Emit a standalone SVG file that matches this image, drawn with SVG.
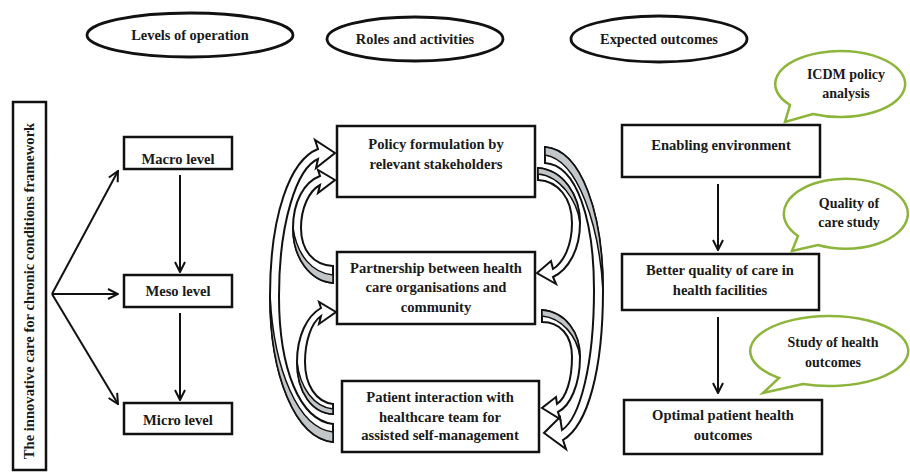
<svg xmlns="http://www.w3.org/2000/svg" width="910" height="472" viewBox="0 0 910 472">
<style>
text{font-family:"Liberation Serif","Times New Roman",serif;font-weight:bold;font-size:14.6px;fill:#1a1a1a;text-anchor:middle}
.hd{font-size:14.4px}
.bt{font-size:14px}
.box{fill:#fff;stroke:#111;stroke-width:2.5}
.ell{fill:#fff;stroke:#111;stroke-width:2.8}
.bub{fill:#fff;stroke:#8db53c;stroke-width:2.5;stroke-linejoin:miter}
.ln{fill:none;stroke:#111;stroke-width:2}
.band{fill:#fff;stroke:#111;stroke-width:2;stroke-linejoin:miter}
.gry{fill:#c3c6c9;stroke:#111;stroke-width:1.5}
</style>
<defs>
<marker id="ah" viewBox="0 0 12 12" refX="11" refY="6" markerWidth="12" markerHeight="12" markerUnits="userSpaceOnUse" orient="auto">
<path d="M1,1 L11,6 L1,11" fill="none" stroke="#111" stroke-width="2"/>
</marker>
</defs>
<rect width="910" height="472" fill="#fff"/>

<g id="hdr-levels"><ellipse class="ell" cx="190" cy="35" rx="103" ry="22"/><text class="hd" x="190" y="40">Levels of operation</text></g>
<g id="hdr-roles"><ellipse class="ell" cx="415" cy="39" rx="88" ry="22"/><text class="hd" x="415" y="44">Roles and activities</text></g>
<g id="hdr-outcomes"><ellipse class="ell" cx="659" cy="39" rx="88" ry="23"/><text class="hd" x="659" y="44">Expected outcomes</text></g>

<g id="framework"><rect class="box" x="13" y="102" width="33" height="368"/><text transform="translate(34,291) rotate(-90)">The innovative care for chronic conditions framework</text></g>

<g id="macro"><rect class="box" x="124" y="137" width="108" height="32"/><text x="178" y="164">Macro level</text></g>
<g id="meso"><rect class="box" x="124" y="275" width="108" height="32"/><text x="178" y="296">Meso level</text></g>
<g id="micro"><rect class="box" x="124" y="403" width="108" height="31"/><text x="178" y="425">Micro level</text></g>

<g id="policy"><rect class="box" x="337" y="126" width="198" height="71"/><text x="436" y="149">Policy formulation by</text><text x="436" y="169">relevant stakeholders</text></g>
<g id="partnership"><rect class="box" x="337" y="252" width="198" height="72"/><text x="436" y="273">Partnership between health</text><text x="436" y="292">care organisations and</text><text x="436" y="312">community</text></g>
<g id="patient"><rect class="box" x="342" y="381" width="197" height="71"/><text x="440" y="402">Patient interaction with</text><text x="440" y="422">healthcare team for</text><text x="440" y="440">assisted self-management</text></g>

<g id="enabling"><rect class="box" x="622" y="125" width="198" height="52"/><text x="721" y="150">Enabling environment</text></g>
<g id="better"><rect class="box" x="622" y="254" width="197" height="56"/><text x="720" y="275">Better quality of care in</text><text x="720" y="295">health facilities</text></g>
<g id="optimal"><rect class="box" x="624" y="400" width="198" height="54"/><text x="723" y="420">Optimal patient health</text><text x="723" y="440">outcomes</text></g>

<g id="bubble-icdm"><path class="bub" d="M813,114 L785,122 L790,105 A65 33 0 1 1 813,114 Z"/><text class="bt" x="846" y="79">ICDM policy</text><text class="bt" x="846" y="98">analysis</text></g>
<g id="bubble-quality"><path class="bub" d="M818,245 L792,251 L798,236 A62 35 0 1 1 818,245 Z"/><text class="bt" x="849" y="208">Quality of</text><text class="bt" x="849" y="227">care study</text></g>
<g id="bubble-study"><path class="bub" d="M803,384 L763,393 L779,378 A79 35 0 1 1 803,384 Z"/><text class="bt" x="833" y="347">Study of health</text><text class="bt" x="833" y="367">outcomes</text></g>

<g id="connectors">
<line class="ln" x1="52" y1="294" x2="118" y2="171" marker-end="url(#ah)"/>
<line class="ln" x1="52" y1="294" x2="118" y2="294" marker-end="url(#ah)"/>
<line class="ln" x1="52" y1="294" x2="118" y2="404" marker-end="url(#ah)"/>
<line class="ln" x1="180" y1="175" x2="180" y2="272" marker-end="url(#ah)"/>
<line class="ln" x1="180" y1="313" x2="180" y2="400" marker-end="url(#ah)"/>
<line class="ln" x1="718" y1="184" x2="718" y2="250" marker-end="url(#ah)"/>
<line class="ln" x1="718" y1="317" x2="718" y2="393" marker-end="url(#ah)"/>

<path class="band" d="M333,442 C295,438 270,375 270,296 C270,215 290,160 318,149 L315,140 L335,153 L316,168 L318,159 C297,168 279,222 279,296 C279,370 300,420 333,424 Z"/>
<path class="gry" d="M333,442 C295,438 270,375 270,296 C274,370 298,428 333,432 Z"/>
<path class="band" d="M333,283 C310,281 293,258 293,228 C293,202 304,182 320,176 L318,170 L335,180 L318,193 L320,185 C309,191 301,208 301,228 C301,250 313,265 333,266 Z"/>
<path class="gry" d="M333,283 C310,281 293,258 293,228 C297,255 312,273 333,275 Z"/>
<path class="band" d="M333,414 C312,413 297,392 297,362 C297,336 307,316 321,308 L319,302 L336,312 L319,324 L321,316 C311,323 305,342 305,362 C305,385 316,402 333,404 Z"/>
<path class="gry" d="M333,414 C312,413 297,392 297,362 C300,388 314,407 333,409 Z"/>

<path class="band" d="M545,147 C582,150 603,215 603,290 C603,370 588,425 563,440 L566,449 L544,433 L560,417 L562,430 C580,418 594,365 594,290 C594,220 577,165 545,163 Z"/>
<path class="gry" d="M545,147 C582,150 603,215 603,290 C599,225 578,160 545,155 Z"/>
<path class="band" d="M538,168 C563,170 580,195 580,223 C580,250 568,270 553,277 L556,284 L537,273 L551,261 L553,269 C564,262 572,245 572,223 C572,198 558,181 538,180 Z"/>
<path class="gry" d="M538,168 C563,170 580,195 580,223 C577,200 560,176 538,174 Z"/>
<path class="band" d="M542,310 C566,312 580,333 580,357 C580,385 570,406 558,412 L560,419 L542,408 L556,397 L557,404 C566,398 572,380 572,357 C572,335 560,322 542,322 Z"/>
<path class="gry" d="M542,310 C566,312 580,333 580,357 C577,336 562,318 542,316 Z"/>
</g>
</svg>
